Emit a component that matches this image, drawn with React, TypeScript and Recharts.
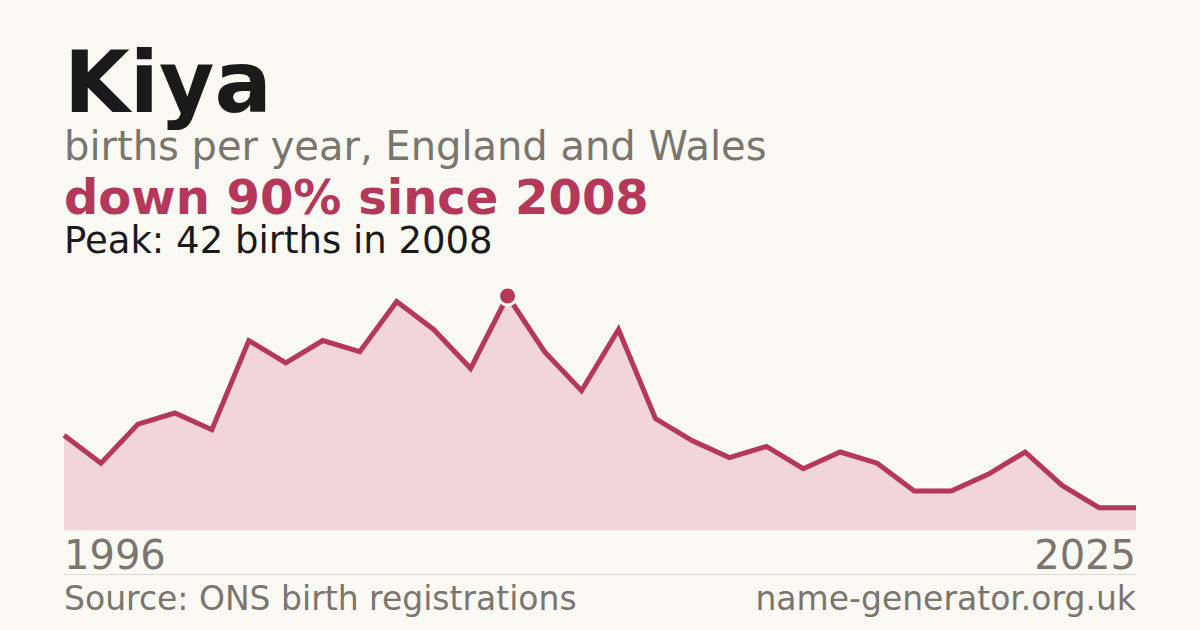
import { AreaChart, Area, XAxis, YAxis } from 'recharts'

const years = [
  1996, 1997, 1998, 1999, 2000, 2001, 2002, 2003, 2004, 2005,
  2006, 2007, 2008, 2009, 2010, 2011, 2012, 2013, 2014, 2015,
  2016, 2017, 2018, 2019, 2020, 2021, 2022, 2023, 2024, 2025,
]
const births = [
  17, 12, 19, 21, 18, 34, 30, 34, 32, 41,
  36, 29, 42, 32, 25, 36, 20, 16, 13, 15,
  11, 14, 12, 7, 7, 10, 14, 8, 4, 4,
]

const BG = '#faf9f4'
const RED = '#b5375a'
const GREY = '#7a766e'
const INK = '#1a1a1a'

const data = years.map((year, i) => ({ year, births: births[i] }))
const peak = Math.max(...births)
const peakYear = years[births.indexOf(peak)]

function PeakDot(props: { cx?: number; cy?: number; payload?: { year: number } }) {
  const { cx, cy, payload } = props
  if (!payload || payload.year !== peakYear || cx == null || cy == null) return <g />
  return <circle cx={cx} cy={cy} r={9} fill={RED} stroke={BG} strokeWidth={3} />
}

export default function App() {
  const font = '"DejaVu Sans", sans-serif'
  return (
    <div style={{ position: 'absolute', top: 0, left: 0, width: 1200, height: 630, background: BG, fontFamily: font }}>
      <AreaChart width={1200} height={630} data={data} margin={{ top: 296, right: 64, bottom: 100, left: 64 }}>
        <XAxis dataKey="year" hide />
        <YAxis hide domain={[0, peak]} />
        <Area
          type="linear"
          dataKey="births"
          stroke={RED}
          strokeWidth={5}
          fill="#f2d5db"
          fillOpacity={1}
          dot={<PeakDot />}
          activeDot={false}
          isAnimationActive={false}
        />
      </AreaChart>
      <svg width={1200} height={630} style={{ position: 'absolute', top: 0, left: 0, pointerEvents: 'none' }}>
        <text x={64} y={112} fontSize={85} fontWeight="bold" fill={INK} fontFamily={font}>Kiya</text>
        <text x={64} y={160} fontSize={40} fill={GREY} fontFamily={font}>births per year, England and Wales</text>
        <text x={64} y={214} fontSize={48} fontWeight="bold" fill={RED} fontFamily={font}>down 90% since {peakYear}</text>
        <text x={64} y={253} fontSize={37} fill={INK} fontFamily={font}>Peak: {peak} births in {peakYear}</text>
        <text x={64} y={569} fontSize={40} fill={GREY} fontFamily={font}>{years[0]}</text>
        <text x={1136} y={569} fontSize={40} fill={GREY} fontFamily={font} textAnchor="end">{years[years.length - 1]}</text>
        <line x1={64} x2={1136} y1={574.5} y2={574.5} stroke="#dddad2" strokeWidth={1} />
        <text x={64} y={610} fontSize={33} fill={GREY} fontFamily={font}>Source: ONS birth registrations</text>
        <text x={1136} y={610} fontSize={33} fill={GREY} fontFamily={font} textAnchor="end">name-generator.org.uk</text>
      </svg>
    </div>
  )
}
